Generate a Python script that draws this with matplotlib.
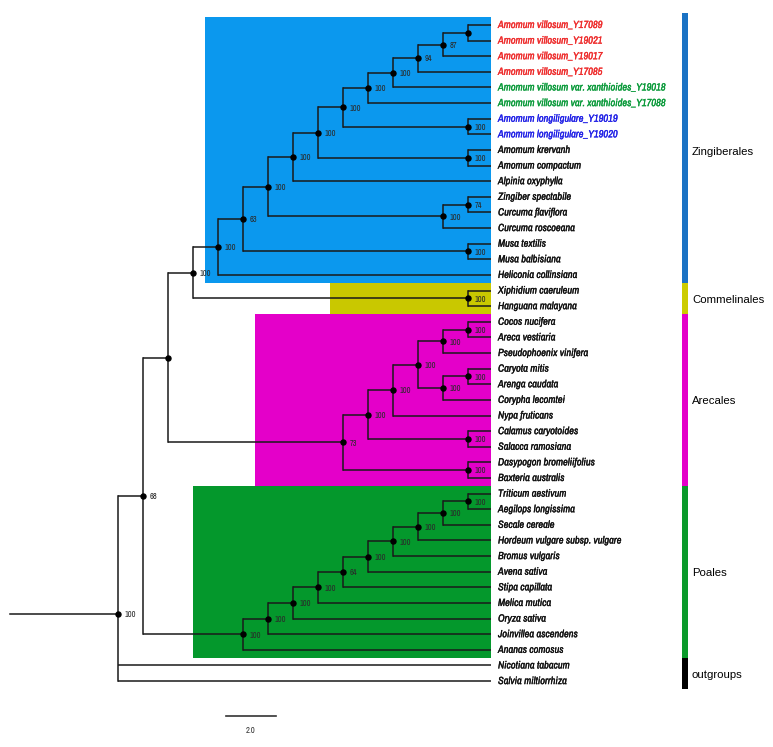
import matplotlib
matplotlib.use("Agg")
import matplotlib.pyplot as plt
from matplotlib import font_manager as fm
from matplotlib import patheffects as pe
from matplotlib.patches import Rectangle

# ---------------- data ----------------
# Newick pieces: "name" leaves, ")support:branch_length" internal nodes (units of scale bar)
ZINGIBERALES = ("(((((((((((Amomum villosum_Y17089,Amomum villosum_Y19021):1,"
                "Amomum villosum_Y19017)87:1,Amomum villosum_Y17085)94:1,"
                "Amomum villosum var. xanthioides_Y19018)100:1,"
                "Amomum villosum var. xanthioides_Y17088)100:1,"
                "(Amomum longiligulare_Y19019,Amomum longiligulare_Y19020)100:5)100:1,"
                "(Amomum krervanh,Amomum compactum)100:6)100:1,Alpinia oxyphylla)100:1,"
                "((Zingiber spectabile,Curcuma flaviflora)74:1,Curcuma roscoeana)100:7)100:1,"
                "(Musa textilis,Musa balbisiana)100:9)63:1,Heliconia collinsiana)100:1")
COMMELINALES = "(Xiphidium caeruleum,Hanguana malayana)100:11"
ARECALES = ("((((((Cocos nucifera,Areca vestiaria)100:1,Pseudophoenix vinifera)100:1,"
            "((Caryota mitis,Arenga caudata)100:1,Corypha lecomtei)100:1)100:1,"
            "Nypa fruticans)100:1,(Calamus caryotoides,Salacca ramosiana)100:4)100:1,"
            "(Dasypogon bromeliifolius,Baxteria australis)100:5)73:7")
POALES = ("((((((((((Triticum aestivum,Aegilops longissima)100:1,Secale cereale)100:1,"
          "Hordeum vulgare subsp. vulgare)100:1,Bromus vulgaris)100:1,Avena sativa)100:1,"
          "Stipa capillata)64:1,Melica mutica)100:1,Oryza sativa)100:1,"
          "Joinvillea ascendens)100:1,Ananas comosus)100:4")
OUTGROUPS = ["Nicotiana tabacum", "Salvia miltiorrhiza"]
ROOT_SUPPORT = "100"
ROOT_STEM = 4.3

N192 = "(" + ZINGIBERALES + "," + COMMELINALES + ")100:1"
N167 = "(" + N192 + "," + ARECALES + "):1"
N142 = "(" + N167 + "," + POALES + ")68:1"
TREE = "(" + N142 + "," + ",".join(OUTGROUPS) + ")" + ROOT_SUPPORT + ":" + str(ROOT_STEM) + ";"

RED_TAXA = ["Amomum villosum_Y17089", "Amomum villosum_Y19021",
            "Amomum villosum_Y19017", "Amomum villosum_Y17085"]
GREEN_TAXA = ["Amomum villosum var. xanthioides_Y19018",
              "Amomum villosum var. xanthioides_Y17088"]
BLUE_TAXA = ["Amomum longiligulare_Y19019", "Amomum longiligulare_Y19020"]

CLADE_NAMES = ["Zingiberales", "Commelinales", "Arecales", "Poales", "outgroups"]
CLADE_FIRST = [0, 17, 19, 30, 41]
CLADE_LAST = [16, 18, 29, 40, 42]
SCALE_LEN = 2.0
SCALE_LABEL = "2.0"

# ---------------- style ----------------
TIP_X = 19.24
BG_COLORS = ["#0b98ee", "#c9c800", "#e400c9", "#04982c"]
BG_LEFT = [7.8, 12.8, 9.8, 7.3]
BAR_COLORS = ["#1a72c4", "#cccc00", "#e400c9", "#0a9a2a", "#000000"]
BAR_X = 26.98
LABEL_X = 27.28


def has_font(f):
    try:
        fm.findfont(fm.FontProperties(family=f), fallback_to_default=False)
        return True
    except Exception:
        return False


NARROW = "Archivo Narrow" if has_font("Archivo Narrow") else "DejaVu Sans"
SANS = "Liberation Sans" if has_font("Liberation Sans") else "DejaVu Sans"


# ---------------- parse ----------------
def parse(s):
    pos = 0

    def node():
        nonlocal pos
        children = []
        if s[pos] == "(":
            pos += 1
            children.append(node())
            while s[pos] == ",":
                pos += 1
                children.append(node())
            pos += 1
        start = pos
        while s[pos] not in ",():;":
            pos += 1
        label = s[start:pos].strip()
        length = None
        if s[pos] == ":":
            pos += 1
            start = pos
            while s[pos] not in ",();":
                pos += 1
            length = float(s[start:pos])
        return {"children": children, "label": label, "length": length}

    return node()


root = parse(TREE)

leaves = []


def layout(n, parent_x):
    if not n["children"]:
        n["x"] = TIP_X
        n["y"] = len(leaves)
        leaves.append(n)
        return
    n["x"] = parent_x + (n["length"] or 0)
    for c in n["children"]:
        layout(c, n["x"])
    n["y"] = sum(c["y"] for c in n["children"]) / len(n["children"])


layout(root, 0.0)

# ---------------- draw ----------------
W, H = 773, 747
fig = plt.figure(figsize=(W / 100, H / 100), dpi=100)
ax = fig.add_axes([0, 0, 1, 1])
ax.set_xlim(-0.4, 30.52)
ax.set_ylim(46.22, -1.6)
ax.axis("off")
renderer = fig.canvas.get_renderer()


def fit_size(text, target_px, base=8.0, **kw):
    t = fig.text(0, 0, text, fontsize=base, **kw)
    w = t.get_window_extent(renderer).width
    t.remove()
    return base * target_px / w


TIP_FS = fit_size("Amomum villosum_Y17089", 105, family=NARROW, style="italic")
SUP_FS = fit_size("100", 11.5, family=NARROW)

# background clade boxes
for i in range(4):
    ax.add_patch(Rectangle((BG_LEFT[i], CLADE_FIRST[i] - 0.5), TIP_X - BG_LEFT[i],
                           CLADE_LAST[i] - CLADE_FIRST[i] + 1,
                           facecolor=BG_COLORS[i], edgecolor="none", zorder=0))

LW = 1.1
LC = "#1a1a1a"


def draw(n, parent):
    if parent is None:
        ax.plot([0, n["x"]], [n["y"], n["y"]], color=LC, lw=LW, zorder=2)
    else:
        ax.plot([parent["x"], n["x"]], [n["y"], n["y"]], color=LC, lw=LW, zorder=2,
                solid_capstyle="butt")
    if n["children"]:
        ys = [c["y"] for c in n["children"]]
        ax.plot([n["x"], n["x"]], [min(ys), max(ys)], color=LC, lw=LW, zorder=2,
                solid_capstyle="projecting")
        ax.plot([n["x"]], [n["y"]], marker="o", ms=3.6, color="black", zorder=3)
        if n["label"]:
            ax.text(n["x"] + 0.28, n["y"] + 0.05, n["label"], fontsize=SUP_FS,
                    family=NARROW, color="#2a2a2a", va="center", ha="left", zorder=4)
        for c in n["children"]:
            draw(c, n)


draw(root, None)

# tip labels
for lf in leaves:
    name = lf["label"]
    col = "#111111"
    if name in RED_TAXA:
        col = "#ee2c2c"
    elif name in GREEN_TAXA:
        col = "#0a9a3a"
    elif name in BLUE_TAXA:
        col = "#2020e6"
    ax.text(TIP_X + 0.28, lf["y"], name, fontsize=TIP_FS, family=NARROW, style="italic",
            color=col, va="center", ha="left", zorder=4,
            path_effects=[pe.withStroke(linewidth=0.2, foreground=col)])

# clade bars
for i, nm in enumerate(CLADE_NAMES):
    top = CLADE_FIRST[i] - 0.5 - (0.25 if i == 0 else 0)
    bot = CLADE_LAST[i] + 0.5
    ax.add_patch(Rectangle((BAR_X - 0.12, top), 0.24, bot - top,
                           facecolor=BAR_COLORS[i], edgecolor="none", zorder=1))
    ax.text(LABEL_X, (CLADE_FIRST[i] + CLADE_LAST[i]) / 2 + 0.1, nm, fontsize=8.2,
            family=SANS, color="black", va="center", ha="left")

# scale bar
SB_X, SB_Y = 8.64, 44.24
ax.plot([SB_X, SB_X + SCALE_LEN], [SB_Y, SB_Y], color="#333333", lw=1.2)
ax.text(SB_X + SCALE_LEN / 2, SB_Y + 0.9, SCALE_LABEL, fontsize=6.2, family=NARROW,
        color="#333333", ha="center", va="center")

fig.savefig("out.png", dpi=100)
